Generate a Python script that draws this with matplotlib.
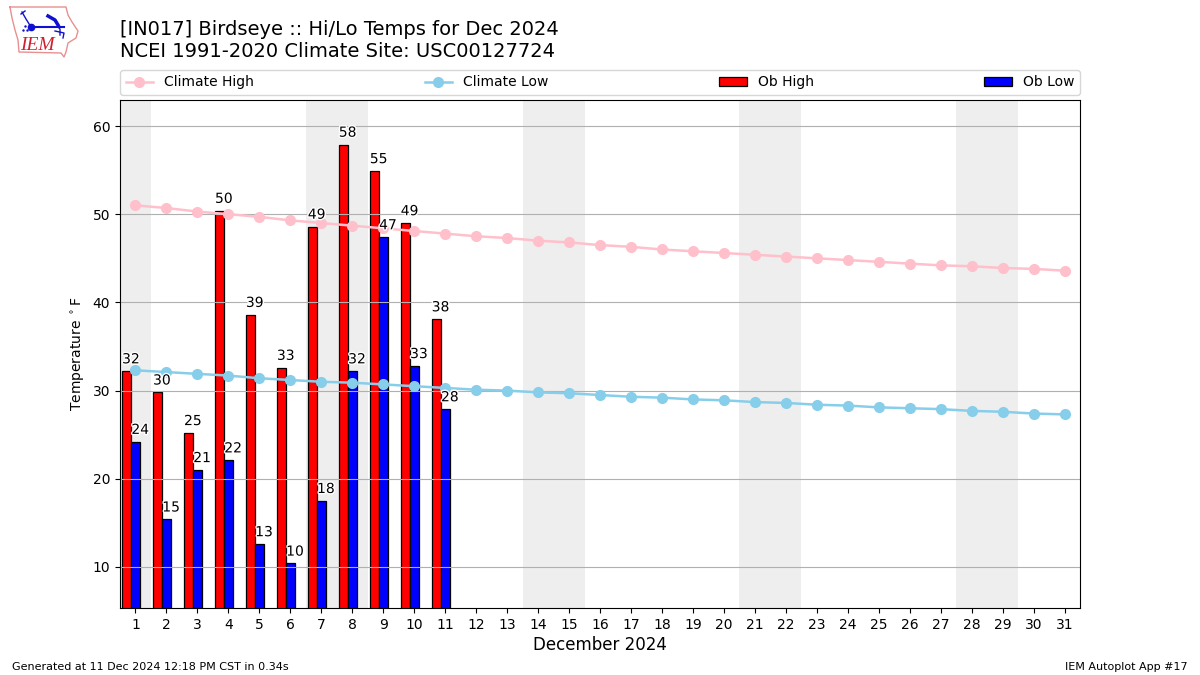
#!/usr/bin/env python3
# Daily hi/lo temps vs climatology, with bar labels and a small drawn logo
import matplotlib
matplotlib.use('Agg')
from matplotlib import pyplot as plt
import matplotlib.patheffects as pe

days = list(range(1, 32))
weekend_spans = [(0.5, 1.5), (6.5, 8.5), (13.5, 15.5), (20.5, 22.5), (27.5, 29.5)]

climate_high = [51.0, 50.7, 50.3, 50.0, 49.7, 49.3, 49.0, 48.7, 48.4, 48.1, 47.8,
                47.5, 47.3, 47.0, 46.8, 46.5, 46.3, 46.0, 45.8, 45.6, 45.4, 45.2,
                45.0, 44.8, 44.6, 44.4, 44.2, 44.1, 43.9, 43.8, 43.6]
climate_low = [32.3, 32.1, 31.9, 31.7, 31.4, 31.2, 31.0, 30.9, 30.7, 30.5, 30.3,
               30.1, 30.0, 29.8, 29.7, 29.5, 29.3, 29.2, 29.0, 28.9, 28.7, 28.6,
               28.4, 28.3, 28.1, 28.0, 27.9, 27.7, 27.6, 27.4, 27.3]

ob_days = list(range(1, 12))
ob_high = [32.2, 29.8, 25.2, 50.4, 38.6, 32.6, 48.6, 57.9, 54.9, 49.0, 38.1]
ob_low = [24.2, 15.4, 21.0, 22.1, 12.6, 10.4, 17.5, 32.2, 47.4, 32.8, 27.9]

fig = plt.figure(figsize=(12, 6.75), dpi=100)
ax = fig.add_axes([0.1, 1 - 608 / 675, 0.8, 508 / 675])

for start, end in weekend_spans:
    ax.axvspan(start, end, color='#EEEEEE', zorder=0, lw=0)

ax.bar([d - 0.29 for d in ob_days], ob_high, width=0.3, color='r', ec='k', lw=0.9,
       label='Ob High', zorder=1)
ax.bar([d + 0.005 for d in ob_days], ob_low, width=0.3, color='b', ec='k', lw=0.9,
       label='Ob Low', zorder=1)
ax.plot(days, climate_high, color='pink', marker='o', lw=1.8, ms=7, label='Climate High')
ax.plot(days, climate_low, color='skyblue', marker='o', lw=1.8, ms=7, label='Climate Low')

# labels sit slightly right of each bar, white halo keeps them readable
halo = [pe.withStroke(linewidth=2, foreground='white')]
for d, val in zip(ob_days, ob_high):
    ax.text(d - 0.15, val + 0.55, f'{val:.0f}', ha='center', va='bottom', fontsize=10,
            path_effects=halo, zorder=3)
for d, val in zip(ob_days, ob_low):
    ax.text(d + 0.15, val + 0.55, f'{val:.0f}', ha='center', va='bottom', fontsize=10,
            path_effects=halo, zorder=3)

ax.set_xlim(0.5, 31.5)
ax.set_ylim(5.35, 62.95)
ax.set_xticks(days)
ax.set_yticks([10, 20, 30, 40, 50, 60])
ax.grid(axis='y', color='#b0b0b0', lw=0.8)
ax.set_ylabel(r'Temperature $^\circ$F')
ax.set_xlabel('December 2024', fontsize=12, labelpad=3)

handles, labels = ax.get_legend_handles_labels()
order = [labels.index(n) for n in ('Climate High', 'Climate Low', 'Ob High', 'Ob Low')]
ax.legend([handles[i] for i in order], [labels[i] for i in order], ncol=4, mode='expand',
          loc='lower left', bbox_to_anchor=(0, 1.01, 1, 0.05), borderaxespad=0)

fig.text(0.1, 1 - 61 / 675, '[IN017] Birdseye :: Hi/Lo Temps for Dec 2024\n'
         'NCEI 1991-2020 Climate Site: USC00127724', fontsize=14, va='bottom')
fig.text(0.01, 0.008, 'Generated at 11 Dec 2024 12:18 PM CST in 0.34s', fontsize=8)
fig.text(0.99, 0.008, 'IEM Autoplot App #17', fontsize=8, ha='right')

# logo, in pixel coordinates of the top left corner
logo = fig.add_axes([0, 1 - 64 / 675, 90 / 1200, 64 / 675])
logo.set_xlim(0, 90)
logo.set_ylim(64, 0)
logo.axis('off')
outline_x = [10, 66, 68, 72, 78, 76, 68, 66, 64, 61, 19, 18, 15, 12, 10]
outline_y = [7, 7, 15, 22, 31, 38, 43, 52, 57, 53, 52, 40, 30, 18, 7]
logo.plot(outline_x, outline_y, color='#e89090', lw=1)
logo.plot([31, 64], [27, 27], color='#1010d0', lw=1.5)
logo.plot([31], [27], 'o', color='#1010d0', ms=4.5)
logo.plot([48, 55, 58], [16, 20, 25], color='#1010d0', lw=2.5)
logo.plot([22, 26, 31], [12, 19, 27], color='#1010d0', lw=1)
logo.plot([21, 25], [14, 11], color='#1010d0', lw=1)
logo.plot([58, 60, 60], [27, 29, 35], color='#1010d0', lw=1)
logo.plot([55, 64, 63], [31, 33, 38], color='#1010d0', lw=1)
logo.plot([23, 25, 27], [30, 26, 30], '.', color='#1010d0', ms=1.5)
logo.text(37.5, 46, 'IEM', color='#d02030', family='Liberation Serif', style='italic',
          fontsize=14, ha='center', va='center')

plt.savefig('out.png', dpi=100)
